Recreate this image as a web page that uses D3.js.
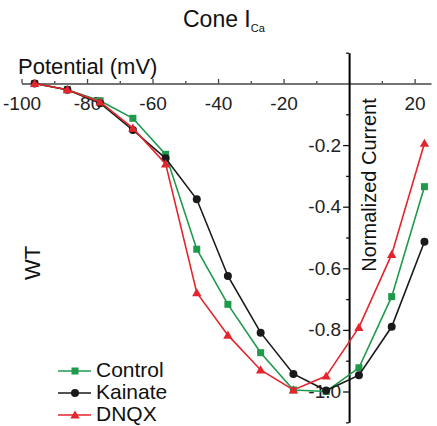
<!DOCTYPE html>
<html><head><meta charset="utf-8">
<script src="https://cdn.jsdelivr.net/npm/d3@7"></script>
<style>
html,body{margin:0;padding:0;background:#fff;}
text{font-family:"Liberation Sans",Arial,sans-serif;}
</style></head>
<body><svg id="c" width="437" height="426"></svg>
<script>
const potentials = [-96, -86, -76, -66, -56, -46.5, -37, -27, -17, -7, 3, 13, 23];
const controlVals = [0, -0.02, -0.056, -0.113, -0.23, -0.538, -0.717, -0.874, -0.995, -1.0, -0.923, -0.692, -0.335];
const kainateVals = [0, -0.02, -0.064, -0.151, -0.243, -0.376, -0.625, -0.809, -0.943, -0.997, -0.947, -0.79, -0.514];
const dnqxVals = [0, -0.02, -0.06, -0.145, -0.261, -0.679, -0.817, -0.93, -0.995, -0.95, -0.792, -0.555, -0.194];
const seriesNames = ["Control", "Kainate", "DNQX"];
const xMajorTicks = [-100, -80, -60, -40, -20, 20];
const xMinorTicks = [-90, -70, -50, -30, -10, 0, 10];
const yMajorTicks = [-0.2, -0.4, -0.6, -0.8, -1.0];
const yMinorTicks = [0.1, -0.1, -0.3, -0.5, -0.7, -0.9, -1.1];

const colors = {Control:"#1f9a4c", Kainate:"#1a1a1a", DNQX:"#e3262d"};
const svg = d3.select("#c");
const x = d3.scaleLinear().domain([-100, 25]).range([21.5, 431]);
const y = d3.scaleLinear().domain([0.1, -1.1]).range([52.7, 422.3]);
const x0 = x(0), y0 = y(0);

// title
const t = svg.append("text").attr("x", 183).attr("y", 27).attr("font-size", 23).attr("fill", "#111");
t.append("tspan").text("Cone I");
t.append("tspan").attr("font-size", 11).attr("dy", 5).text("Ca");

// x axis
const xa = svg.append("g").attr("transform", `translate(0,${y0})`)
  .call(d3.axisBottom(x).tickValues(xMajorTicks).tickSizeInner(-4.5).tickSizeOuter(0).tickPadding(13).tickFormat(d => String(d)));
xa.select(".domain").attr("stroke", "#444").attr("stroke-width", 1.4);
xa.selectAll(".tick line").attr("stroke", "#444").attr("stroke-width", 1.3);
xa.selectAll("text").attr("font-size", 19).attr("fill", "#222").attr("font-family", "Liberation Sans, Arial, sans-serif");
const xm = svg.append("g").attr("transform", `translate(0,${y0})`)
  .call(d3.axisBottom(x).tickValues(xMinorTicks).tickSizeInner(-2.5).tickSizeOuter(0).tickFormat(""));
xm.select(".domain").remove();
xm.selectAll(".tick line").attr("stroke", "#444").attr("stroke-width", 1.3);

svg.append("text").attr("x", 18).attr("y", 74).attr("font-size", 22).attr("fill", "#111").text("Potential (mV)");

// y axis
const ya = svg.append("g").attr("transform", `translate(${x0},0)`)
  .call(d3.axisLeft(y).tickValues(yMajorTicks).tickSizeInner(6).tickSizeOuter(0).tickPadding(2).tickFormat(d => d.toFixed(1)));
ya.select(".domain").attr("stroke", "#000").attr("stroke-width", 2);
ya.selectAll(".tick line").attr("stroke", "#111").attr("stroke-width", 1.3);
ya.selectAll("text").attr("font-size", 19).attr("fill", "#222").attr("font-family", "Liberation Sans, Arial, sans-serif");
const ym = svg.append("g").attr("transform", `translate(${x0},0)`)
  .call(d3.axisLeft(y).tickValues(yMinorTicks).tickSizeInner(3).tickSizeOuter(0).tickFormat(""));
ym.select(".domain").remove();
ym.selectAll(".tick line").attr("stroke", "#111").attr("stroke-width", 1.3);

svg.append("text").attr("transform", `translate(376,185) rotate(-90)`).attr("text-anchor", "middle")
  .attr("font-size", 20).attr("fill", "#111").text("Normalized Current");
svg.append("text").attr("transform", `translate(40,263) rotate(-90)`).attr("text-anchor", "middle")
  .attr("font-size", 22).attr("fill", "#111").text("WT");

// data
const data = {Control: controlVals, Kainate: kainateVals, DNQX: dnqxVals};
const line = d3.line().x(d => x(d[0])).y(d => y(d[1]));
function marker(g, name, cx, cy) {
  const c = colors[name];
  if (name === "Control") g.append("rect").attr("x", cx - 3.5).attr("y", cy - 3.5).attr("width", 7).attr("height", 7).attr("fill", c);
  else if (name === "Kainate") g.append("circle").attr("cx", cx).attr("cy", cy).attr("r", 4).attr("fill", c);
  else g.append("path").attr("d", d3.symbol().type(d3.symbolTriangle).size(38)()).attr("transform", `translate(${cx},${cy+0.8})`).attr("fill", c);
}
seriesNames.forEach(name => {
  const pts = potentials.map((p, i) => [p, data[name][i]]);
  const g = svg.append("g");
  g.append("path").attr("d", line(pts)).attr("fill", "none").attr("stroke", colors[name]).attr("stroke-width", 1.6);
  pts.forEach(p => marker(g, name, x(p[0]), y(p[1])));
});

// legend
const legY = [377, 399, 421];
seriesNames.forEach((name, i) => {
  const g = svg.append("g");
  const ly = legY[i] - 6;
  g.append("line").attr("x1", 58).attr("x2", 91).attr("y1", ly).attr("y2", ly).attr("stroke", colors[name]).attr("stroke-width", 1.6);
  marker(g, name, 75, ly);
  g.append("text").attr("x", 96).attr("y", legY[i]).attr("font-size", 21).attr("fill", "#111").text(name);
});
</script></body></html>
